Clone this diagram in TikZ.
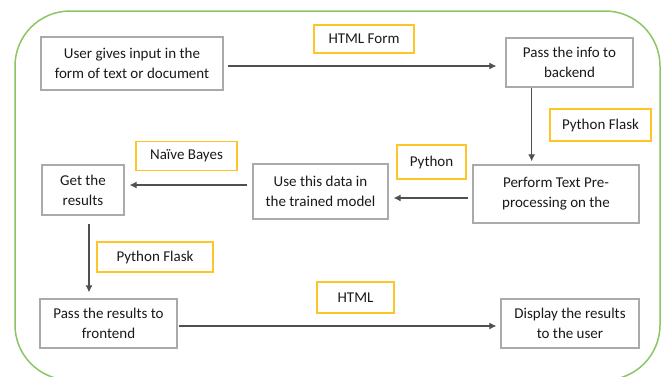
\documentclass[tikz,border=0pt]{standalone}
\usepackage{fontspec}
\setmainfont{Carlito}
\usetikzlibrary{arrows.meta,calc}
\definecolor{boxgray}{RGB}{170,170,170}
\definecolor{linegray}{RGB}{80,80,80}
\definecolor{labyellow}{RGB}{255,196,40}
\definecolor{framegreen}{RGB}{140,198,100}
\definecolor{txt}{RGB}{25,25,25}
\tikzset{
  stepbox/.style={draw=boxgray,line width=1.3pt,align=center,inner sep=0pt,text=txt,
    font=\fontsize{15pt}{20pt}\selectfont},
  tagbox/.style={draw=labyellow,line width=1.4pt,align=center,inner sep=0pt,text=txt,
    font=\fontsize{15pt}{20pt}\selectfont},
  arr/.style={draw=linegray,line width=1.1pt,-{Latex[length=7pt,width=7pt]}}
}
\begin{document}
\begin{tikzpicture}[x=1pt,y=-1pt]
\useasboundingbox (0,0) rectangle (665,376);
% green frame
\draw[framegreen,line width=1.5pt,rounded corners=55pt] (15,11) rectangle (660,380);
% step boxes
\node[stepbox,minimum width=182pt,minimum height=53pt] (b1) at (132,63.5) {User gives input in the\\form of text or document};
\node[stepbox,minimum width=127pt,minimum height=49pt] (b2) at (569.5,62.5) {Pass the info to\\backend};
\node[stepbox,minimum width=166pt,minimum height=58pt] (b3) at (556,194) {Perform Text Pre-\\processing on the};
\node[stepbox,minimum width=135pt,minimum height=55pt] (b4) at (320.5,191.5) {Use this data in\\the trained model};
\node[stepbox,minimum width=82pt,minimum height=50pt] (b5) at (83,190) {Get the\\results};
\node[stepbox,minimum width=137pt,minimum height=49pt] (b6) at (108.5,323.5) {Pass the results to\\frontend};
\node[stepbox,minimum width=138pt,minimum height=49pt] (b7) at (570,323.5) {Display the results\\to the user};
% labels
\node[tagbox,minimum width=100pt,minimum height=28pt] (l1) at (364,39) {HTML Form};
\node[tagbox,minimum width=101pt,minimum height=32pt] (l2) at (600.5,125) {Python Flask};
\node[tagbox,minimum width=69pt,minimum height=34pt] (l3) at (431.5,162) {Python};
\node[tagbox,minimum width=101pt,minimum height=29pt] (l4) at (186.5,156) {Naïve Bayes};
\node[tagbox,minimum width=116pt,minimum height=30pt] (l5) at (155,257) {Python Flask};
\node[tagbox,minimum width=77pt,minimum height=31pt] (l6) at (355.5,297.5) {HTML};
% connectors
\coordinate (a1s) at ([yshift=-2.5pt]b1.east);
\draw[arr,shorten <=4pt,shorten >=9pt] (a1s) -- (a1s -| b2.west);
\coordinate (a2s) at ($(b2.south west)!0.205!(b2.south east)$);
\draw[arr,shorten >=3pt] (a2s) -- (a2s |- b3.north);
\coordinate (a3s) at ([yshift=-4pt]b3.west);
\draw[arr,shorten <=4pt,shorten >=5pt] (a3s) -- (a3s -| b4.east);
\coordinate (a4s) at ([yshift=6.5pt]b4.west);
\draw[arr,shorten <=5pt,shorten >=5pt] (a4s) -- (a4s -| b5.east);
\coordinate (a5s) at ([xshift=6pt]b5.south);
\draw[arr,shorten <=8pt,shorten >=6pt] (a5s) -- (a5s |- b6.north);
\coordinate (a6s) at ([yshift=-2.5pt]b6.east);
\draw[arr,shorten <=1pt,shorten >=4pt] (a6s) -- (a6s -| b7.west);
\end{tikzpicture}
\end{document}
